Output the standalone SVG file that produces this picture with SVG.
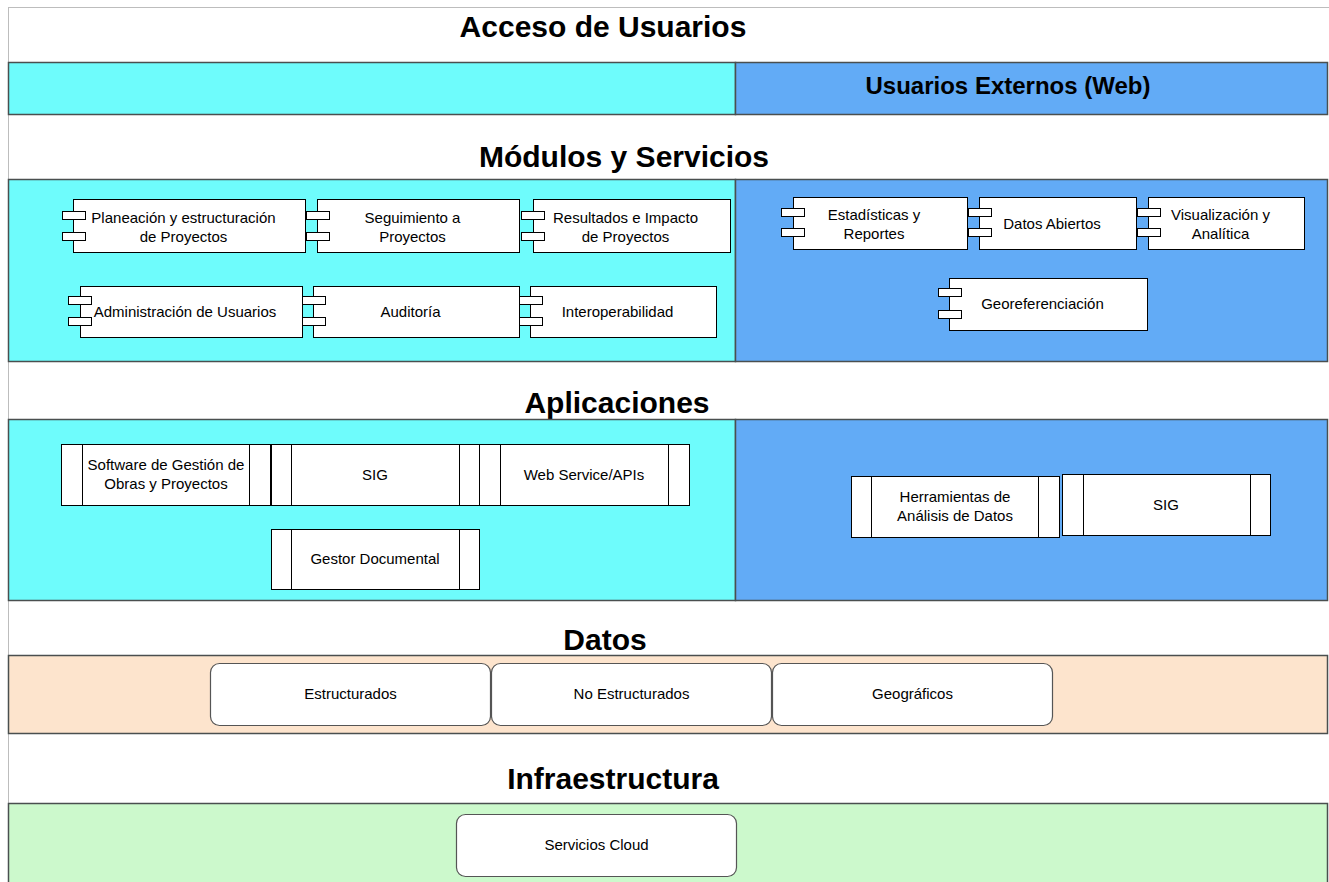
<svg xmlns="http://www.w3.org/2000/svg" width="1329" height="882" viewBox="0 0 1329 882">
<style>
.bg{fill:#ffffff}
.frame{fill:none;stroke:#bdbdbd;stroke-width:1}
.band{stroke:#4a4f4f;stroke-width:1.5}
.cyan{fill:#6efcfc}
.blue{fill:#62abf6}
.peach{fill:#fde4cd}
.green{fill:#ccf9cc}
.box{fill:#ffffff;stroke:#000000;stroke-width:1}
.rbox{fill:#ffffff;stroke:#555555;stroke-width:1.2}
.h{font-family:"Liberation Sans",Arial,sans-serif;font-weight:bold;font-size:30px;fill:#000;text-anchor:middle}
.h2{font-family:"Liberation Sans",Arial,sans-serif;font-weight:bold;font-size:24px;fill:#000;text-anchor:middle}
.t{font-family:"Liberation Sans",Arial,sans-serif;font-size:15px;fill:#000;text-anchor:middle}
.s{font-family:"Liberation Sans",Arial,sans-serif;font-size:15px;fill:#000;text-anchor:middle}
</style>
<rect class="bg" x="0" y="0" width="1329" height="882"/>
<rect class="frame" x="8.5" y="7.5" width="1330" height="880"/>

<!-- Layer backgrounds -->
<g id="layer-acceso">
<text class="h" x="603" y="37">Acceso de Usuarios</text>
<rect class="band cyan" x="8.5" y="62.5" width="727" height="52"/>
<rect class="band blue" x="735.5" y="62.5" width="592" height="52"/>
<text class="h2" x="1008" y="94">Usuarios Externos (Web)</text>
</g>

<g id="layer-modulos">
<text class="h" x="624" y="167">Módulos y Servicios</text>
<rect class="band cyan" x="8.5" y="179.5" width="727" height="182"/>
<rect class="band blue" x="735.5" y="179.5" width="592" height="182"/>
</g>

<g id="layer-aplicaciones">
<text class="h" x="617" y="413">Aplicaciones</text>
<rect class="band cyan" x="8.5" y="419.5" width="727" height="181"/>
<rect class="band blue" x="735.5" y="419.5" width="592" height="181"/>
</g>

<g id="layer-datos">
<text class="h" x="605" y="650">Datos</text>
<rect class="band peach" x="8.5" y="655.5" width="1319" height="78"/>
</g>

<g id="layer-infra">
<text class="h" x="613" y="789">Infraestructura</text>
<rect class="band green" x="8.5" y="803.5" width="1319" height="85"/>
</g>

<!-- Module components -->
<g id="mod-planeacion">
<rect class="box" x="73.5" y="199.5" width="232" height="53"/>
<rect class="box" x="62.5" y="211.5" width="23" height="8"/>
<rect class="box" x="62.5" y="232.5" width="23" height="8"/>
<text class="t" x="183.5" y="223">Planeación y estructuración</text>
<text class="t" x="183.5" y="242">de Proyectos</text>
</g>
<g id="mod-seguimiento">
<rect class="box" x="317.5" y="199.5" width="202" height="53"/>
<rect class="box" x="306.5" y="211.5" width="23" height="8"/>
<rect class="box" x="306.5" y="232.5" width="23" height="8"/>
<text class="t" x="412.5" y="223">Seguimiento a</text>
<text class="t" x="412.5" y="242">Proyectos</text>
</g>
<g id="mod-resultados">
<rect class="box" x="533.5" y="199.5" width="197" height="53"/>
<rect class="box" x="521.5" y="211.5" width="23" height="8"/>
<rect class="box" x="521.5" y="232.5" width="23" height="8"/>
<text class="t" x="625.5" y="223">Resultados e Impacto</text>
<text class="t" x="625.5" y="242">de Proyectos</text>
</g>
<g id="mod-administracion">
<rect class="box" x="80.5" y="286.5" width="222" height="51"/>
<rect class="box" x="68.5" y="296.5" width="23" height="8"/>
<rect class="box" x="68.5" y="317.5" width="23" height="8"/>
<text class="t" x="185" y="317">Administración de Usuarios</text>
</g>
<g id="mod-auditoria">
<rect class="box" x="313.5" y="286.5" width="206" height="51"/>
<rect class="box" x="302.5" y="296.5" width="23" height="8"/>
<rect class="box" x="302.5" y="317.5" width="23" height="8"/>
<text class="t" x="410.5" y="317">Auditoría</text>
</g>
<g id="mod-interoperabilidad">
<rect class="box" x="530.5" y="286.5" width="186" height="51"/>
<rect class="box" x="519.5" y="296.5" width="23" height="8"/>
<rect class="box" x="519.5" y="317.5" width="23" height="8"/>
<text class="t" x="617.5" y="317">Interoperabilidad</text>
</g>
<g id="mod-estadisticas">
<rect class="box" x="793.5" y="197.5" width="174" height="52"/>
<rect class="box" x="781.5" y="208.5" width="23" height="8"/>
<rect class="box" x="781.5" y="228.5" width="23" height="8"/>
<text class="t" x="874" y="220">Estadísticas y</text>
<text class="t" x="874" y="239">Reportes</text>
</g>
<g id="mod-datos-abiertos">
<rect class="box" x="979.5" y="197.5" width="157" height="52"/>
<rect class="box" x="968.5" y="208.5" width="23" height="8"/>
<rect class="box" x="968.5" y="228.5" width="23" height="8"/>
<text class="t" x="1052" y="229">Datos Abiertos</text>
</g>
<g id="mod-visualizacion">
<rect class="box" x="1148.5" y="197.5" width="156" height="52"/>
<rect class="box" x="1137.5" y="208.5" width="23" height="8"/>
<rect class="box" x="1137.5" y="228.5" width="23" height="8"/>
<text class="t" x="1220.5" y="220">Visualización y</text>
<text class="t" x="1220.5" y="239">Analítica</text>
</g>
<g id="mod-georeferenciacion">
<rect class="box" x="949.5" y="278.5" width="198" height="52"/>
<rect class="box" x="938.5" y="288.5" width="23" height="8"/>
<rect class="box" x="938.5" y="310.5" width="23" height="8"/>
<text class="t" x="1042.5" y="309">Georeferenciación</text>
</g>

<!-- Applications -->
<g id="app-software">
<rect class="box" x="61.5" y="444.5" width="209" height="61"/>
<line class="box" x1="82.5" y1="444.5" x2="82.5" y2="505.5"/>
<line class="box" x1="249.5" y1="444.5" x2="249.5" y2="505.5"/>
<text class="t" x="166" y="470">Software de Gestión de</text>
<text class="t" x="166" y="489">Obras y Proyectos</text>
</g>
<g id="app-sig">
<rect class="box" x="271.5" y="444.5" width="208" height="61"/>
<line class="box" x1="291.5" y1="444.5" x2="291.5" y2="505.5"/>
<line class="box" x1="459.5" y1="444.5" x2="459.5" y2="505.5"/>
<text class="t" x="375" y="480">SIG</text>
</g>
<g id="app-webservice">
<rect class="box" x="479.5" y="444.5" width="210" height="61"/>
<line class="box" x1="500.5" y1="444.5" x2="500.5" y2="505.5"/>
<line class="box" x1="668.5" y1="444.5" x2="668.5" y2="505.5"/>
<text class="t" x="584" y="480">Web Service/APIs</text>
</g>
<g id="app-gestor">
<rect class="box" x="271.5" y="529.5" width="208" height="60"/>
<line class="box" x1="291.5" y1="529.5" x2="291.5" y2="589.5"/>
<line class="box" x1="459.5" y1="529.5" x2="459.5" y2="589.5"/>
<text class="t" x="375" y="564">Gestor Documental</text>
</g>
<g id="app-herramientas">
<rect class="box" x="851.5" y="476.5" width="208" height="61"/>
<line class="box" x1="871.5" y1="476.5" x2="871.5" y2="537.5"/>
<line class="box" x1="1038.5" y1="476.5" x2="1038.5" y2="537.5"/>
<text class="t" x="955" y="502">Herramientas de</text>
<text class="t" x="955" y="521">Análisis de Datos</text>
</g>
<g id="app-sig-ext">
<rect class="box" x="1062.5" y="474.5" width="208" height="61"/>
<line class="box" x1="1083.5" y1="474.5" x2="1083.5" y2="535.5"/>
<line class="box" x1="1250.5" y1="474.5" x2="1250.5" y2="535.5"/>
<text class="t" x="1166" y="510">SIG</text>
</g>

<!-- Data -->
<g id="dato-estructurados">
<rect class="rbox" x="210.5" y="663.5" width="280" height="62" rx="9"/>
<text class="s" x="350.5" y="699">Estructurados</text>
</g>
<g id="dato-no-estructurados">
<rect class="rbox" x="491.5" y="663.5" width="280" height="62" rx="9"/>
<text class="s" x="631.5" y="699">No Estructurados</text>
</g>
<g id="dato-geograficos">
<rect class="rbox" x="772.5" y="663.5" width="280" height="62" rx="9"/>
<text class="s" x="912.5" y="699">Geográficos</text>
</g>

<!-- Infrastructure -->
<g id="infra-cloud">
<rect class="rbox" x="456.5" y="814.5" width="280" height="62" rx="9"/>
<text class="s" x="596.5" y="850">Servicios Cloud</text>
</g>

<g id="connectors"></g>
</svg>
